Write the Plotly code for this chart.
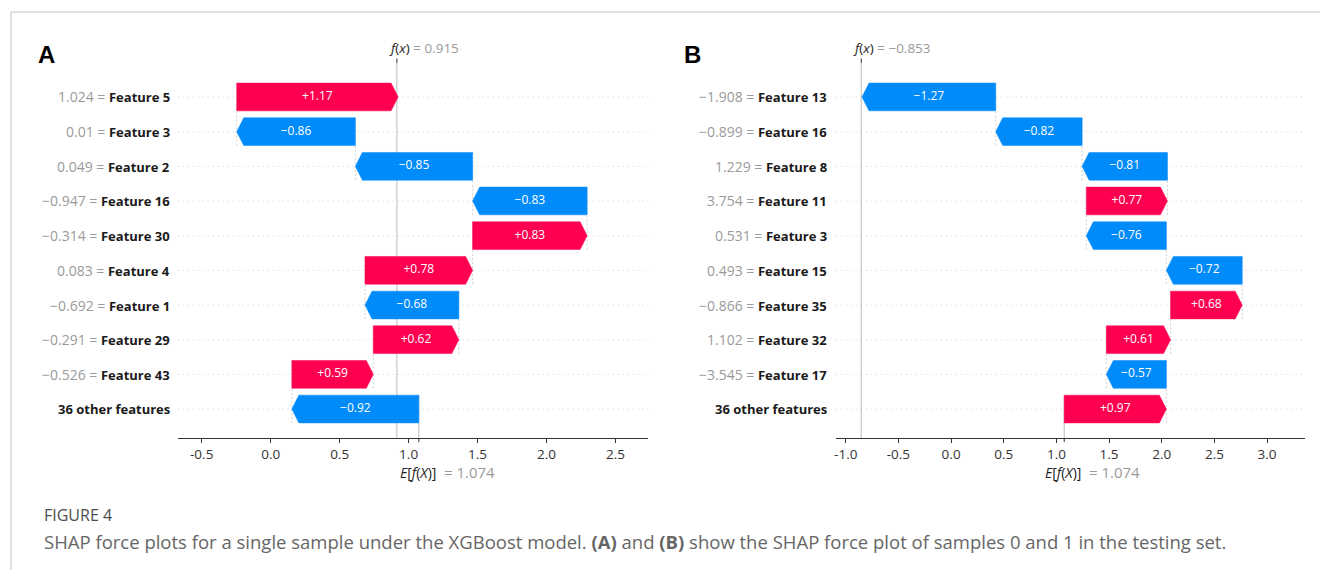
import plotly.graph_objects as go

# ---- data: SHAP waterfall contributions, listed top row to bottom row ----
base_value = 1.074

a_features = ["Feature 5", "Feature 3", "Feature 2", "Feature 16", "Feature 30",
              "Feature 4", "Feature 1", "Feature 29", "Feature 43", "36 other features"]
a_feature_values = ["1.024", "0.01", "0.049", "−0.947", "−0.314",
                    "0.083", "−0.692", "−0.291", "−0.526", None]
a_shap = [1.17, -0.86, -0.85, -0.83, 0.83, 0.78, -0.68, 0.62, 0.59, -0.92]
a_fx = 0.915

b_features = ["Feature 13", "Feature 16", "Feature 8", "Feature 11", "Feature 3",
              "Feature 15", "Feature 35", "Feature 32", "Feature 17", "36 other features"]
b_feature_values = ["−1.908", "−0.899", "1.229", "3.754", "0.531",
                    "0.493", "−0.866", "1.102", "−3.545", None]
b_shap = [-1.27, -0.82, -0.81, 0.77, -0.76, -0.72, 0.68, 0.61, -0.57, 0.97]
b_fx = -0.853

a_ticks = [-0.5, 0.0, 0.5, 1.0, 1.5, 2.0, 2.5]
a_ticktext = ["-0.5", "0.0", "0.5", "1.0", "1.5", "2.0", "2.5"]
b_ticks = [-1.0, -0.5, 0.0, 0.5, 1.0, 1.5, 2.0, 2.5, 3.0]
b_ticktext = ["-1.0", "-0.5", "0.0", "0.5", "1.0", "1.5", "2.0", "2.5", "3.0"]

# ---- styling ----
RED = "#ff0051"
BLUE = "#008bfb"
GRAY_TXT = "#9a9a9a"
FONT = "Open Sans"
W, H = 1320, 570
BAR_H = 0.8
HEAD_PX = 7

panels = [
    dict(features=a_features, fvals=a_feature_values, shap=a_shap, fx=a_fx,
         ticks=a_ticks, ticktext=a_ticktext, xdom=[0.1333, 0.4905], xrange=[-0.674, 2.739],
         xa="x", ya="y", label_x=170, letter="A", letter_x=34),
    dict(features=b_features, fvals=b_feature_values, shap=b_shap, fx=b_fx,
         ticks=b_ticks, ticktext=b_ticktext, xdom=[0.6326, 0.9886], xrange=[-1.095, 3.36],
         xa="x2", ya="y2", label_x=828, letter="B", letter_x=681),
]

YRANGE = [9.835, -0.98]
YDOM = [0.2316, 0.8895]

fig = go.Figure()
shapes = []
annotations = []


def fmt_shap(v):
    return ("+" if v > 0 else "−") + f"{abs(v):.2f}"


for p in panels:
    n = len(p["features"])
    xa, ya = p["xa"], p["ya"]
    px_per_unit = (p["xdom"][1] - p["xdom"][0]) * W / (p["xrange"][1] - p["xrange"][0])
    head = HEAD_PX / px_per_unit

    # cumulative positions, starting from the base value at the bottom row
    starts = [0.0] * n
    pos = base_value
    for r in range(n - 1, -1, -1):
        starts[r] = pos
        pos += p["shap"][r]

    # dotted row guides
    for r in range(n):
        shapes.append(dict(type="line", xref=f"{xa} domain", yref=ya, x0=0, x1=1, y0=r, y1=r,
                           line=dict(color="#d0d0d0", width=1, dash="1px,4px"), layer="below"))

    # f(x) and E[f(X)] reference lines
    shapes.append(dict(type="line", xref=xa, yref=f"{ya} domain", x0=p["fx"], x1=p["fx"], y0=0, y1=1,
                       line=dict(color="#bbbbbb", width=1), layer="below"))
    shapes.append(dict(type="line", xref=xa, yref=ya, x0=base_value, x1=base_value,
                       y0=YRANGE[0], y1=n - 1 - 0.4, line=dict(color="#bbbbbb", width=1), layer="below"))

    # connectors between consecutive bars
    for r in range(1, n):
        end = starts[r] + p["shap"][r]
        shapes.append(dict(type="line", xref=xa, yref=ya, x0=end, x1=end, y0=r + 0.4, y1=r - 1 - 0.4,
                           line=dict(color="#c4c4c4", width=0.8, dash="2px,2px"), layer="below"))

    # arrow bars
    tx, ty, tt = [], [], []
    for r in range(n):
        v = p["shap"][r]
        s = starts[r]
        e = s + v
        h = BAR_H / 2
        if v > 0:
            hl = min(head, v)
            xs = [s, e - hl, e, e - hl, s, s]
        else:
            hl = min(head, -v)
            xs = [s, e + hl, e, e + hl, s, s]
        ys = [r - h, r - h, r, r + h, r + h, r - h]
        color = RED if v > 0 else BLUE
        fig.add_trace(go.Scatter(x=xs, y=ys, xaxis=xa, yaxis=ya, mode="lines", fill="toself",
                                 fillcolor=color, line=dict(color=color, width=0.5),
                                 hoverinfo="skip", showlegend=False))
        tx.append(s + v / 2)
        ty.append(r)
        tt.append(fmt_shap(v))
    fig.add_trace(go.Scatter(x=tx, y=ty, xaxis=xa, yaxis=ya, mode="text", text=tt,
                             textfont=dict(color="white", size=12, family=FONT),
                             hoverinfo="skip", showlegend=False))

    # row labels
    for r in range(n):
        fv = p["fvals"][r]
        if fv is None:
            txt = f"<b>{p['features'][r]}</b>"
        else:
            txt = (f"<span style='color:{GRAY_TXT};font-size:14px'>{fv} = </span>"
                   f"<b>{p['features'][r]}</b>")
        annotations.append(dict(text=txt, xref="paper", yref=ya, x=p["label_x"] / W, y=r,
                                xanchor="right", yanchor="middle", showarrow=False,
                                font=dict(size=13, color="#1a1a1a", family=FONT)))

    # extra ticks for f(x) (top) and E[f(X)] (bottom)
    shapes.append(dict(type="line", xref=xa, yref=f"{ya} domain", x0=p["fx"], x1=p["fx"],
                       y0=1.0, y1=1.012, line=dict(color="#333333", width=1)))
    shapes.append(dict(type="line", xref=xa, yref=f"{ya} domain", x0=base_value, x1=base_value,
                       y0=0, y1=-0.011, line=dict(color="#333333", width=1)))

    annotations.append(dict(
        text=f"<i>f</i>(<i>x</i>) <span style='color:{GRAY_TXT}'>= {p['fx']:.3f}</span>".replace("-", "−"),
        xref=xa, yref=f"{ya} domain", x=p["fx"], y=1, xshift=-10, yshift=4,
        xanchor="left", yanchor="bottom", showarrow=False,
        font=dict(size=13.5, color="#222222", family=FONT)))
    annotations.append(dict(
        text=f"<i>E</i>[<i>f</i>(<i>X</i>)] <span style='color:{GRAY_TXT};font-size:15px'> = {base_value:.3f}</span>",
        xref=xa, yref=f"{ya} domain", x=base_value, y=0, xshift=-21, yshift=-22,
        xanchor="left", yanchor="top", showarrow=False,
        font=dict(size=14, color="#222222", family=FONT)))

    # panel letter
    annotations.append(dict(text=f"<b>{p['letter']}</b>", xref="paper", yref="paper",
                            x=p["letter_x"] / W, y=(H - 55) / H, xanchor="left", yanchor="middle",
                            showarrow=False, font=dict(size=24, color="black", family="Liberation Sans")))

# caption
annotations.append(dict(text="FIGURE 4", xref="paper", yref="paper", x=40 / W, y=(H - 515) / H,
                        xanchor="left", yanchor="middle", showarrow=False,
                        font=dict(size=16, color="#4d4d4d", family=FONT)))
annotations.append(dict(
    text="SHAP force plots for a single sample under the XGBoost model. <b>(A)</b> and <b>(B)</b> "
         "show the SHAP force plot of samples 0 and 1 in the testing set.",
    xref="paper", yref="paper", x=40 / W, y=(H - 541) / H, xanchor="left", yanchor="middle",
    showarrow=False, font=dict(size=18.5, color="#666666", family=FONT)))

# frame lines
shapes.append(dict(type="line", xref="paper", yref="paper", x0=9 / W, x1=1, y0=(H - 12) / H, y1=(H - 12) / H,
                   line=dict(color="#d6d6d6", width=1.5)))
shapes.append(dict(type="line", xref="paper", yref="paper", x0=9 / W, x1=9 / W, y0=0, y1=(H - 12) / H,
                   line=dict(color="#d6d6d6", width=1.5)))

axis_common = dict(showgrid=False, zeroline=False, showline=True, linecolor="#333333", linewidth=1,
                   ticks="outside", ticklen=4, tickcolor="#333333", tickmode="array",
                   tickfont=dict(size=13.5, color="#333333", family=FONT), fixedrange=True)
yaxis_common = dict(range=YRANGE, domain=YDOM, visible=False, fixedrange=True)

fig.update_layout(
    width=W, height=H, margin=dict(l=0, r=0, t=0, b=0),
    paper_bgcolor="white", plot_bgcolor="white", showlegend=False,
    xaxis=dict(domain=panels[0]["xdom"], range=panels[0]["xrange"], anchor="y",
               tickvals=a_ticks, ticktext=a_ticktext, **axis_common),
    yaxis=dict(anchor="x", **yaxis_common),
    xaxis2=dict(domain=panels[1]["xdom"], range=panels[1]["xrange"], anchor="y2",
                tickvals=b_ticks, ticktext=b_ticktext, **axis_common),
    yaxis2=dict(anchor="x2", **yaxis_common),
    shapes=shapes, annotations=annotations,
)

fig.write_html("out.html")
